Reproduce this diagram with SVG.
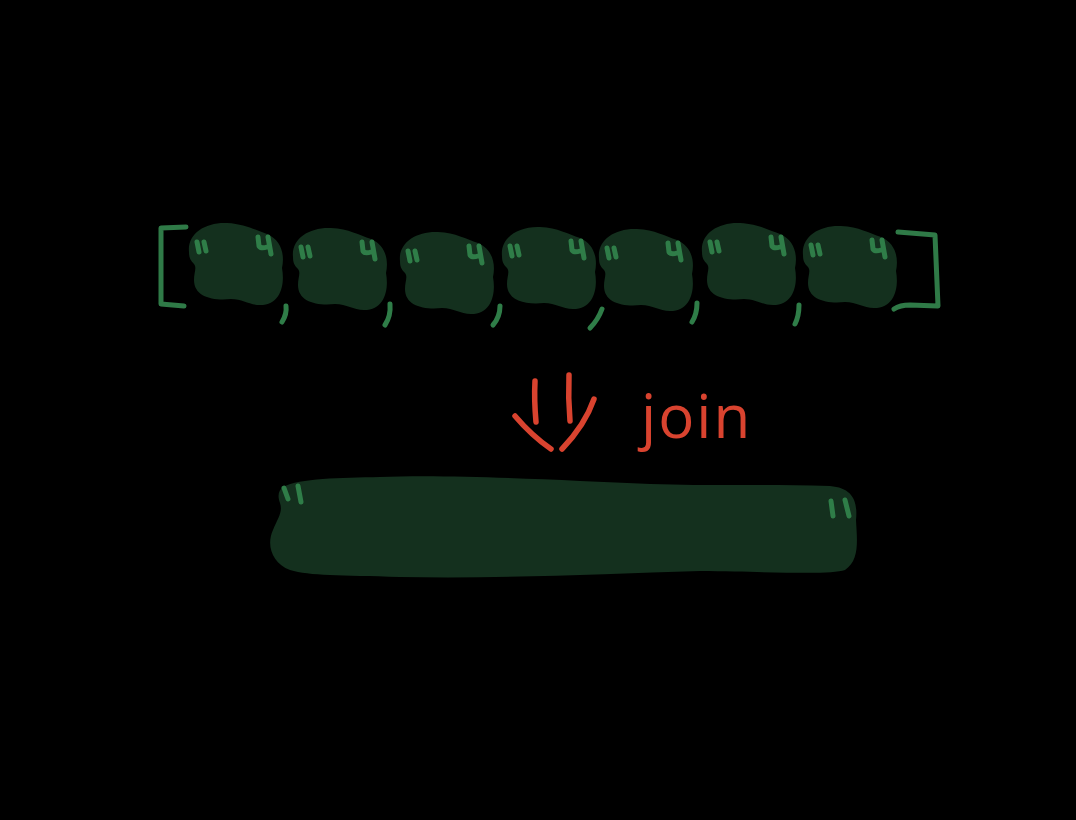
<svg xmlns="http://www.w3.org/2000/svg" xmlns:xlink="http://www.w3.org/1999/xlink" width="1076" height="820" viewBox="0 0 1076 820">
<style>
.blob{fill:#14301e}
.mark{fill:none;stroke:#2f7d48;stroke-width:5;stroke-linecap:round;stroke-linejoin:round}
.brk{fill:none;stroke:#2f7a47;stroke-width:5;stroke-linecap:round;stroke-linejoin:round}
.red{fill:none;stroke:#d9432f;stroke-width:5.5;stroke-linecap:round;stroke-linejoin:round}
.lbl{fill:#d9432f;font-family:"Open Sans","Liberation Sans",sans-serif;font-size:60px}
</style>
<defs>
<path id="b" d="M2,30 C0,12 18,0 40,1 C58,2 68,8 80,12 C94,18 98,32 95,46 C98,62 94,83 73,83 C62,83 56,77 44,77 C26,79 7,75 7,58 C7,50 10,46 7,42 C3,38 2,35 2,30 Z"/>
<g id="q">
<path d="M10,20 L12,30 M17,20 L19,29"/>
<path d="M71,15 L72,24 Q74,27 80,25 M81,15 L84,32"/>
</g>
</defs>
<rect width="1076" height="820" fill="#000"/>
<g id="bracket-open"><path class="brk" d="M186,227 L161,228 L161,304 L184,306"/></g>
<g id="bracket-close"><path class="brk" d="M898,232 L935,235 L938,306 L910,305 Q900,305 894,309"/></g>
<g id="s1"><use href="#b" class="blob" transform="translate(187,222)"/><use href="#q" class="mark" transform="translate(187,222)"/></g>
<g id="s2"><use href="#b" class="blob" transform="translate(291,227)"/><use href="#q" class="mark" transform="translate(291,227)"/></g>
<g id="s3"><use href="#b" class="blob" transform="translate(398,231)"/><use href="#q" class="mark" transform="translate(398,231)"/></g>
<g id="s4"><use href="#b" class="blob" transform="translate(500,226)"/><use href="#q" class="mark" transform="translate(500,226)"/></g>
<g id="s5"><use href="#b" class="blob" transform="translate(597,228)"/><use href="#q" class="mark" transform="translate(597,228)"/></g>
<g id="s6"><use href="#b" class="blob" transform="translate(700,222)"/><use href="#q" class="mark" transform="translate(700,222)"/></g>
<g id="s7"><use href="#b" class="blob" transform="translate(801,225)"/><use href="#q" class="mark" transform="translate(801,225)"/></g>
<g id="commas" class="mark">
<path d="M286,306 Q287,314 282,322"/>
<path d="M390,304 Q391,316 385,325"/>
<path d="M500,306 Q500,317 493,325"/>
<path d="M602,309 Q598,320 590,328"/>
<path d="M697,303 Q697,314 692,322"/>
<path d="M799,305 Q799,316 795,324"/>
</g>
<g id="connectors">
<path class="red" d="M535,381 Q534,400 536,422 M569,375 Q568,398 570,421"/>
<path class="red" d="M515,416 Q532,436 551,449 M594,399 Q585,425 562,449"/>
</g>
<g id="join-label"><text class="lbl" x="641" y="438" letter-spacing="2">join</text></g>
<g id="result">
<path class="blob" d="M283,487 C300,478 340,478 380,477 C450,474 560,480 650,484 C710,486 760,484 830,486 C852,488 858,500 856,520 C857,540 860,560 845,570 C830,575 780,572 700,571 C600,574 500,579 400,577 C340,575 310,576 290,570 C272,563 266,545 273,530 C278,518 283,512 280,503 C277,495 279,490 283,487 Z"/>
<path class="mark" d="M284,488 L288,499 M298,486 L301,502 M831,501 L833,516 M845,500 L849,516"/>
</g>
</svg>
